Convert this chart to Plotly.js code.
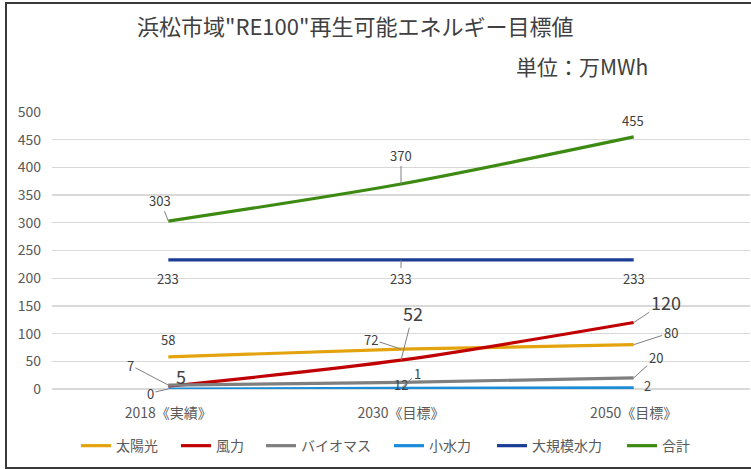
<!DOCTYPE html>
<html>
<head>
<meta charset="utf-8">
<script src="https://cdn.plot.ly/plotly-3.0.1.min.js"></script>
<style>
html,body{margin:0;padding:0;background:#fff;overflow:hidden;}
#wrap{position:relative;width:751px;height:470px;}
#chart{position:absolute;left:0;top:0;width:751px;height:470px;}
#frame{position:absolute;left:5px;top:2px;width:752px;height:467px;border:2px solid #3a3a3a;pointer-events:none;box-sizing:border-box;}
</style>
</head>
<body>
<div id="wrap"><div id="chart"></div><div id="frame"></div></div>
<script>
// ---- data ----
var categories = ["2018《実績》", "2030《目標》", "2050《目標》"];
var seriesNames = ["太陽光", "風力", "バイオマス", "小水力", "大規模水力", "合計"];
var solar   = [58, 72, 80];
var wind    = [5, 52, 120];
var biomass = [7, 12, 20];
var smallHydro = [0, 1, 2];
var largeHydro = [233, 233, 233];
var total   = [303, 370, 455];
var yTicks  = [0, 50, 100, 150, 200, 250, 300, 350, 400, 450, 500];

// ---- styling ----
var seriesValues = [solar, wind, biomass, smallHydro, largeHydro, total];
var colors = ["#E3A30C", "#C00000", "#7F7F7F", "#1A8CD8", "#1A3C94", "#3C8A12"];
var FONT = "Noto Sans CJK JP, Noto Sans, sans-serif";
var legendLineStart = [82, 182, 267, 395, 498, 628]; // px, legend sample start

// label offsets (dx, dy px; arrow flag), font size
var labelCfg = [
  {size:13, off:[[0,-17,false],[-30,-10,true],[37,-12,true]]},
  {size:18, off:[[13,-10,false],[12,-47,true],[32,-21,true]]},
  {size:13, off:[[-38,-20,true],[0,2,false],[22,-20,true]]},
  {size:13, off:[[-18,4,true],[16,-15,true],[14,-2,false]]},
  {size:13, off:[[0,19,false],[0,19,true],[0,19,false]]},
  {size:13, off:[[-8,-21,true],[0,-29,true],[-1,-16,false]]}
];

var traces = seriesNames.map(function(name, i){
  return {
    type:"scatter", mode:"lines", name:name,
    x:categories, y:seriesValues[i],
    legend: i === 0 ? "legend" : "legend" + (i + 1),
    line:{color:colors[i], width:3.2, shape:"spline", smoothing:0.8},
    hoverinfo:"skip"
  };
});

var annotations = [];
seriesValues.forEach(function(vals, i){
  vals.forEach(function(v, j){
    var o = labelCfg[i].off[j];
    var a = {
      xref:"x", yref:"y", x:categories[j], y:v,
      text:String(v),
      font:{family:FONT, size:labelCfg[i].size, color:"#404040"}
    };
    if(o[2]){
      a.showarrow = true; a.ax = o[0]; a.ay = o[1];
      a.arrowhead = 0; a.arrowwidth = 1; a.arrowcolor = "#808080"; a.standoff = 0;
    } else {
      a.showarrow = false; a.xshift = o[0]; a.yshift = -o[1];
    }
    annotations.push(a);
  });
});

annotations.push({
  xref:"paper", yref:"paper", x:(355-52)/698, y:1+(112-25)/277,
  xanchor:"center", yanchor:"middle", showarrow:false,
  text:"浜松市域\"RE100\"再生可能エネルギー目標値",
  font:{family:FONT, size:22, color:"#404040"}
});
annotations.push({
  xref:"paper", yref:"paper", x:(582-52)/698, y:1+(112-66)/277,
  xanchor:"center", yanchor:"middle", showarrow:false,
  text:"単位：万MWh",
  font:{family:FONT, size:21, color:"#404040"}
});

var layout = {
  width:751, height:470,
  margin:{l:52, r:1, t:112, b:81},
  paper_bgcolor:"#ffffff", plot_bgcolor:"#ffffff",
  showlegend:true,
  xaxis:{
    type:"category", range:[-0.5, 2.5], showgrid:false, zeroline:false,
    showline:false, ticks:"outside", ticklen:5, tickcolor:"rgba(0,0,0,0)",
    ticklabelstandoff:6,
    tickfont:{family:FONT, size:14, color:"#595959"}
  },
  yaxis:{
    range:[0, 500], tickvals:yTicks, ticktext:yTicks.map(String),
    showgrid:true, gridcolor:"#d9d9d9", gridwidth:1.3,
    zeroline:true, zerolinecolor:"#d9d9d9", zerolinewidth:1.3,
    showline:false, ticks:"", tickfont:{family:FONT, size:14, color:"#595959"},
    ticklabelstandoff:10
  },
  annotations:annotations
};

legendLineStart.forEach(function(px, i){
  var key = i === 0 ? "legend" : "legend" + (i + 1);
  layout[key] = {
    orientation:"h", x:(px - 52 - 6)/698, xanchor:"left", y:-0.206, yanchor:"middle",
    font:{family:FONT, size:14, color:"#595959"},
    itemwidth:30, bgcolor:"rgba(0,0,0,0)", borderwidth:0
  };
});

Plotly.newPlot("chart", traces, layout, {displayModeBar:false, staticPlot:true});
</script>
</body>
</html>
